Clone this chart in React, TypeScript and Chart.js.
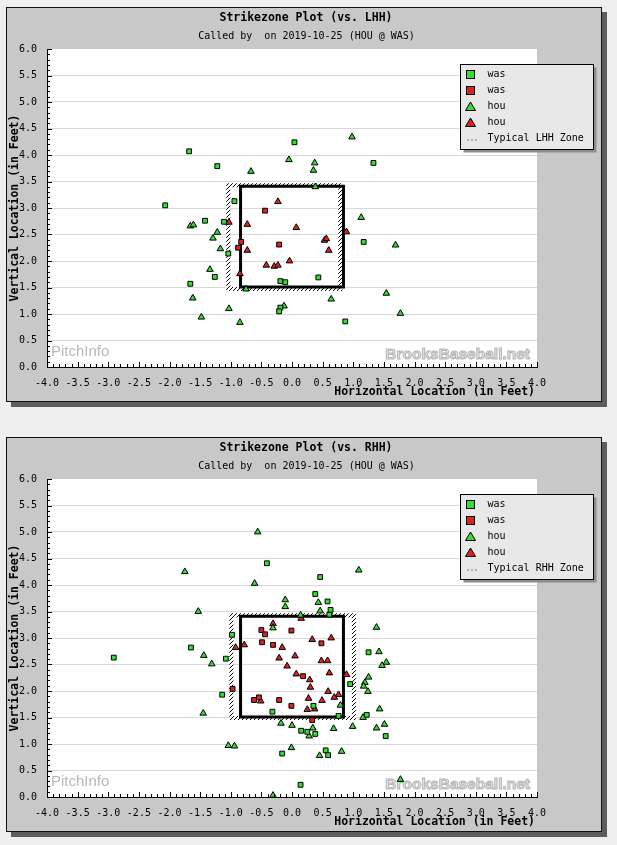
import { useEffect, useRef } from "react";
import { Chart, registerables } from "chart.js";

Chart.register(...registerables);

const MONO = "'DejaVu Sans Mono', monospace";
const GREEN = "#33dd33";
const RED = "#dd2222";

// ---- vs. LHH ----
const lhhWasGreenX = [-1.68, -1.22, 0.04, 1.33, -2.07, -0.94, -1.42, -1.11, -1.04, 1.17, -1.66, -1.26, -0.19, -0.11, 0.43, -0.19, -0.21, 0.87];
const lhhWasGreenY = [4.07, 3.79, 4.24, 3.85, 3.05, 3.13, 2.76, 2.74, 2.14, 2.36, 1.57, 1.70, 1.62, 1.60, 1.69, 1.12, 1.05, 0.86];
const lhhWasRedX = [-0.44, -0.83, -0.88, -0.21];
const lhhWasRedY = [2.95, 2.36, 2.25, 2.31];
const lhhHouGreenX = [-0.05, -0.67, 0.98, 0.37, 0.35, 0.38, -1.66, -1.61, -1.22, -1.29, -1.17, -1.34, -1.62, -1.48, -1.03, -0.85, -0.75, -0.13, 1.13, 1.69, 1.54, 0.64, 1.77];
const lhhHouGreenY = [3.91, 3.69, 4.34, 3.85, 3.71, 3.40, 2.66, 2.68, 2.54, 2.43, 2.23, 1.84, 1.30, 0.94, 1.10, 0.84, 1.47, 1.15, 2.82, 2.30, 1.39, 1.28, 1.01];
const lhhHouRedX = [-0.23, -1.03, -0.73, -0.73, -0.42, -0.29, -0.23, -0.04, -0.85, 0.07, 0.53, 0.56, 0.60, 0.89];
const lhhHouRedY = [3.12, 2.73, 2.69, 2.20, 1.92, 1.90, 1.92, 2.00, 1.76, 2.63, 2.39, 2.42, 2.20, 2.55];

// ---- vs. RHH ----
const rhhWasGreenX = [-2.91, -1.65, -0.98, -1.08, -0.41, 0.46, 0.38, 0.58, 0.63, 0.61, 1.25, -1.14, 0.95, 0.35, -0.32, 0.76, 1.22, 0.15, 0.25, 0.38, 1.53, -0.16, 0.55, 0.59, 0.14];
const rhhWasGreenY = [2.63, 2.82, 3.06, 2.61, 4.41, 4.15, 3.83, 3.69, 3.53, 3.44, 2.73, 1.93, 2.13, 1.72, 1.61, 1.53, 1.55, 1.25, 1.23, 1.19, 1.15, 0.82, 0.88, 0.79, 0.23];
const rhhWasRedX = [-0.50, -0.44, -0.01, -0.49, -0.31, 0.48, 0.18, -0.62, -0.54, -0.21, -0.01, 0.33, -0.97];
const rhhWasRedY = [3.15, 3.07, 3.14, 2.92, 2.87, 2.90, 2.28, 1.83, 1.88, 1.83, 1.72, 1.45, 2.04];
const rhhHouGreenX = [-0.56, -1.75, -0.61, -1.53, -1.44, -1.31, 1.09, -0.11, -0.11, 0.43, 0.46, 0.14, -0.31, 1.38, 1.42, 1.54, 1.47, 1.25, 1.19, 1.17, 1.24, 0.79, 1.43, 1.16, -0.18, 0.0, 0.34, 0.68, 0.99, 1.38, 1.51, 0.28, -0.01, 0.45, 0.81, 1.77, -0.31, -1.45, -1.04, -0.94];
const rhhHouGreenY = [5.0, 4.25, 4.03, 3.50, 2.67, 2.51, 4.28, 3.72, 3.59, 3.67, 3.51, 3.43, 3.19, 3.20, 2.74, 2.54, 2.48, 2.26, 2.16, 2.09, 1.99, 1.73, 1.66, 1.50, 1.39, 1.35, 1.30, 1.29, 1.33, 1.30, 1.37, 1.15, 0.93, 0.78, 0.86, 0.33, 0.03, 1.58, 0.97, 0.96];
const rhhHouRedX = [-0.92, -0.78, 0.15, -0.31, -0.16, 0.33, 0.64, -0.21, 0.05, 0.48, 0.58, -0.08, 0.07, 0.61, 0.89, 0.29, 0.30, 0.59, 0.76, 0.69, 0.27, 0.49, -0.51, 0.25, 0.37];
const rhhHouRedY = [2.82, 2.87, 3.37, 3.27, 2.82, 2.97, 3.00, 2.62, 2.66, 2.57, 2.57, 2.47, 2.32, 2.34, 2.31, 2.21, 2.07, 1.99, 1.93, 1.88, 1.86, 1.82, 1.81, 1.65, 1.66];

// zones (corner paths)
const zoneX = [-0.84, -0.84, 0.84, 0.84, -0.84];
const zoneY = [1.51, 3.41, 3.41, 1.51, 1.51];
const lhhZoneX = [-1.04, -1.04, 0.79, 0.79, -1.04];
const lhhZoneY = [1.47, 3.43, 3.43, 1.47, 1.47];
const rhhZoneX = [-0.99, -0.99, 1.01, 1.01, -0.99];
const rhhZoneY = [1.49, 3.43, 3.43, 1.49, 1.49];

const xTickStep = 0.5;
const yTickStep = 0.5;

const toPoints = (xs: number[], ys: number[]) => xs.map((x, i) => ({ x, y: ys[i] }));

const panelPlugin = {
  id: "szPanel",
  beforeDraw(chart: any, _args: any, opts: any) {
    const { ctx, chartArea: a, width, height } = chart;
    ctx.save();
    ctx.fillStyle = "#eeeeee";
    ctx.fillRect(0, 0, width, height);
    // panel + shadow
    ctx.fillStyle = "#5c5c5c";
    ctx.fillRect(11, 12, 596, 395);
    ctx.fillStyle = "#c8c8c8";
    ctx.fillRect(6, 7, 595, 394);
    ctx.strokeStyle = "#111";
    ctx.lineWidth = 1;
    ctx.strokeRect(6.5, 7.5, 595, 394);
    // plot background
    ctx.fillStyle = "#ffffff";
    ctx.fillRect(a.left, a.top, a.right - a.left, a.bottom - a.top);
    // watermarks
    ctx.textBaseline = "middle";
    ctx.textAlign = "left";
    ctx.font = "15px 'Liberation Sans', sans-serif";
    ctx.fillStyle = "#b8b8b8";
    ctx.fillText("PitchInfo", a.left + 4, a.bottom - 15);
    ctx.textAlign = "right";
    ctx.font = "bold 15.5px 'Liberation Sans', sans-serif";
    ctx.fillStyle = "#e4e4e4";
    ctx.strokeStyle = "#b4b4b4";
    ctx.lineWidth = 1;
    ctx.fillText("BrooksBaseball.net", a.right - 7, a.bottom - 12);
    ctx.strokeText("BrooksBaseball.net", a.right - 7, a.bottom - 12);
    // titles
    ctx.fillStyle = "#000";
    ctx.textAlign = "center";
    ctx.font = `bold 11.5px ${MONO}`;
    ctx.fillText(opts.title, 306, 18.5);
    ctx.font = `10px ${MONO}`;
    ctx.fillText(opts.subtitle, 306.5, 36);
    ctx.restore();
  },
  afterDraw(chart: any, _args: any, opts: any) {
    const { ctx, chartArea: a, scales } = chart;
    const xs = scales.x;
    const ys = scales.y;
    ctx.save();
    // inward axis ticks
    ctx.strokeStyle = "#000";
    ctx.lineWidth = 1;
    ctx.beginPath();
    const xMinor = xTickStep / 5;
    for (let i = Math.round(xs.min / xMinor); i <= Math.round(xs.max / xMinor); i++) {
      const px = Math.round(xs.getPixelForValue(i * xMinor)) + 0.5;
      const len = i % 5 === 0 ? 5 : 3;
      ctx.moveTo(px, a.bottom);
      ctx.lineTo(px, a.bottom - len);
    }
    const yMinor = yTickStep / 5;
    for (let i = Math.round(ys.min / yMinor); i <= Math.round(ys.max / yMinor); i++) {
      const py = Math.round(ys.getPixelForValue(i * yMinor)) + 0.5;
      const len = i % 5 === 0 ? 5 : 3;
      ctx.moveTo(a.left, py);
      ctx.lineTo(a.left + len, py);
    }
    ctx.stroke();

    // axis titles
    ctx.fillStyle = "#000";
    ctx.font = `bold 11.5px ${MONO}`;
    ctx.textBaseline = "middle";
    ctx.textAlign = "right";
    ctx.fillText("Horizontal Location (in Feet)", 535, 392.5);
    ctx.save();
    ctx.translate(15, (a.top + a.bottom) / 2);
    ctx.rotate(-Math.PI / 2);
    ctx.textAlign = "center";
    ctx.fillText("Vertical Location (in Feet)", 0, 0);
    ctx.restore();

    // legend
    const lx = 460.5;
    const ly = 64.5;
    const lw = 133;
    const lh = 85;
    ctx.fillStyle = "#8c8c8c";
    ctx.fillRect(lx + 3, ly + 3, lw, lh);
    ctx.fillStyle = "#e8e8e8";
    ctx.fillRect(lx, ly, lw, lh);
    ctx.strokeStyle = "#000";
    ctx.strokeRect(lx, ly, lw, lh);
    const entries: number[] = opts.legendIndexes;
    entries.forEach((di, row) => {
      const ds = chart.data.datasets[di];
      const cy = ly + 10 + row * 16;
      const cx = 470.5;
      ctx.lineWidth = 1;
      ctx.strokeStyle = "#000";
      if (ds.pointStyle === "rect") {
        ctx.fillStyle = ds.backgroundColor;
        ctx.fillRect(cx - 4, cy - 4, 8, 8);
        ctx.strokeRect(cx - 4, cy - 4, 8, 8);
      } else if (ds.pointStyle === "triangle") {
        ctx.fillStyle = ds.backgroundColor;
        ctx.beginPath();
        ctx.moveTo(cx, cy - 4.5);
        ctx.lineTo(cx + 5, cy + 4);
        ctx.lineTo(cx - 5, cy + 4);
        ctx.closePath();
        ctx.fill();
        ctx.stroke();
      } else {
        ctx.fillStyle = "#000";
        for (let k = 0; k < 3; k++) ctx.fillRect(cx - 3 + k * 4, cy + 1, 1, 1);
      }
      ctx.fillStyle = "#000";
      ctx.font = `10px ${MONO}`;
      ctx.textAlign = "left";
      ctx.textBaseline = "middle";
      ctx.fillText(ds.label, 487.5, cy);
    });
    ctx.restore();
  },
};

type PlotProps = {
  height: number;
  title: string;
  zoneLabel: string;
  typX: number[];
  typY: number[];
  wasGreen: [number[], number[]];
  wasRed: [number[], number[]];
  houGreen: [number[], number[]];
  houRed: [number[], number[]];
};

function StrikezonePlot(props: PlotProps) {
  const canvasRef = useRef<HTMLCanvasElement>(null);
  const chartRef = useRef<Chart | null>(null);

  useEffect(() => {
    if (!canvasRef.current) return;
    const ctx = canvasRef.current.getContext("2d");
    if (!ctx) return;
    if (chartRef.current) chartRef.current.destroy();

    // hatch pattern for the typical zone border
    const tile = document.createElement("canvas");
    tile.width = 4;
    tile.height = 4;
    const tg = tile.getContext("2d")!;
    tg.fillStyle = "#ffffff";
    tg.fillRect(0, 0, 4, 4);
    tg.fillStyle = "#000000";
    for (let i = 0; i < 4; i++) tg.fillRect(3 - i, i, 1, 1);
    const hatch = ctx.createPattern(tile, "repeat");

    const H = props.height;
    chartRef.current = new Chart(ctx, {
      type: "scatter",
      data: {
        datasets: [
          { label: "was", data: toPoints(...props.wasGreen), pointStyle: "rect", pointRadius: 3.4, backgroundColor: GREEN, borderColor: "#000", borderWidth: 1, order: 0 },
          { label: "was", data: toPoints(...props.wasRed), pointStyle: "rect", pointRadius: 3.4, backgroundColor: RED, borderColor: "#000", borderWidth: 1, order: 0 },
          { label: "hou", data: toPoints(...props.houGreen), pointStyle: "triangle", pointRadius: 3.8, backgroundColor: GREEN, borderColor: "#000", borderWidth: 1, order: 0 },
          { label: "hou", data: toPoints(...props.houRed), pointStyle: "triangle", pointRadius: 3.8, backgroundColor: RED, borderColor: "#000", borderWidth: 1, order: 0 },
          { label: "Strike Zone", data: toPoints(zoneX, zoneY), showLine: true, pointRadius: 0, borderColor: "#000", borderWidth: 3, borderCapStyle: "square", borderJoinStyle: "miter", fill: false, order: 1 } as any,
          { label: props.zoneLabel, data: toPoints(props.typX, props.typY), showLine: true, pointRadius: 0, borderColor: hatch as any, borderWidth: 4, borderCapStyle: "square", borderJoinStyle: "miter", fill: false, order: 2 } as any,
        ],
      },
      options: {
        responsive: false,
        animation: false,
        events: [],
        layout: { padding: { top: 49, right: 80, left: 0, bottom: 0 } },
        scales: {
          x: {
            type: "linear",
            min: -4,
            max: 4,
            afterFit: (s: any) => {
              s.height = H - 367;
            },
            ticks: {
              stepSize: xTickStep,
              autoSkip: false,
              maxRotation: 0,
              padding: 10,
              color: "#000",
              font: { family: MONO, size: 10 },
              callback: (v: any) => Number(v).toFixed(1),
            },
            grid: { display: false, drawTicks: false },
            border: { display: true, color: "#000", width: 1 },
          },
          y: {
            type: "linear",
            min: 0,
            max: 6,
            afterFit: (s: any) => {
              s.width = 47;
            },
            ticks: {
              stepSize: yTickStep,
              autoSkip: false,
              padding: 10,
              color: "#000",
              font: { family: MONO, size: 10 },
              callback: (v: any) => Number(v).toFixed(1),
            },
            grid: {
              drawTicks: false,
              color: (c: any) => (c.tick && c.tick.value > 0 && c.tick.value < 6 ? "#d9d9d9" : "rgba(0,0,0,0)"),
            },
            border: { display: true, color: "#000", width: 1 },
          },
        },
        plugins: {
          legend: { display: false },
          tooltip: { enabled: false },
          szPanel: {
            title: props.title,
            subtitle: "Called by  on 2019-10-25 (HOU @ WAS)",
            legendIndexes: [0, 1, 2, 3, 5],
          },
        } as any,
      },
      plugins: [panelPlugin],
    });

    return () => {
      if (chartRef.current) {
        chartRef.current.destroy();
        chartRef.current = null;
      }
    };
  }, []);

  return <canvas ref={canvasRef} width={617} height={props.height} style={{ display: "block", width: 617, height: props.height }} />;
}

export default function App() {
  return (
    <div style={{ position: "absolute", left: 0, top: 0, width: 617, height: 845, background: "#eeeeee", overflow: "hidden" }}>
      <StrikezonePlot
        height={430}
        title="Strikezone Plot (vs. LHH)"
        zoneLabel="Typical LHH Zone"
        typX={lhhZoneX}
        typY={lhhZoneY}
        wasGreen={[lhhWasGreenX, lhhWasGreenY]}
        wasRed={[lhhWasRedX, lhhWasRedY]}
        houGreen={[lhhHouGreenX, lhhHouGreenY]}
        houRed={[lhhHouRedX, lhhHouRedY]}
      />
      <StrikezonePlot
        height={415}
        title="Strikezone Plot (vs. RHH)"
        zoneLabel="Typical RHH Zone"
        typX={rhhZoneX}
        typY={rhhZoneY}
        wasGreen={[rhhWasGreenX, rhhWasGreenY]}
        wasRed={[rhhWasRedX, rhhWasRedY]}
        houGreen={[rhhHouGreenX, rhhHouGreenY]}
        houRed={[rhhHouRedX, rhhHouRedY]}
      />
    </div>
  );
}
